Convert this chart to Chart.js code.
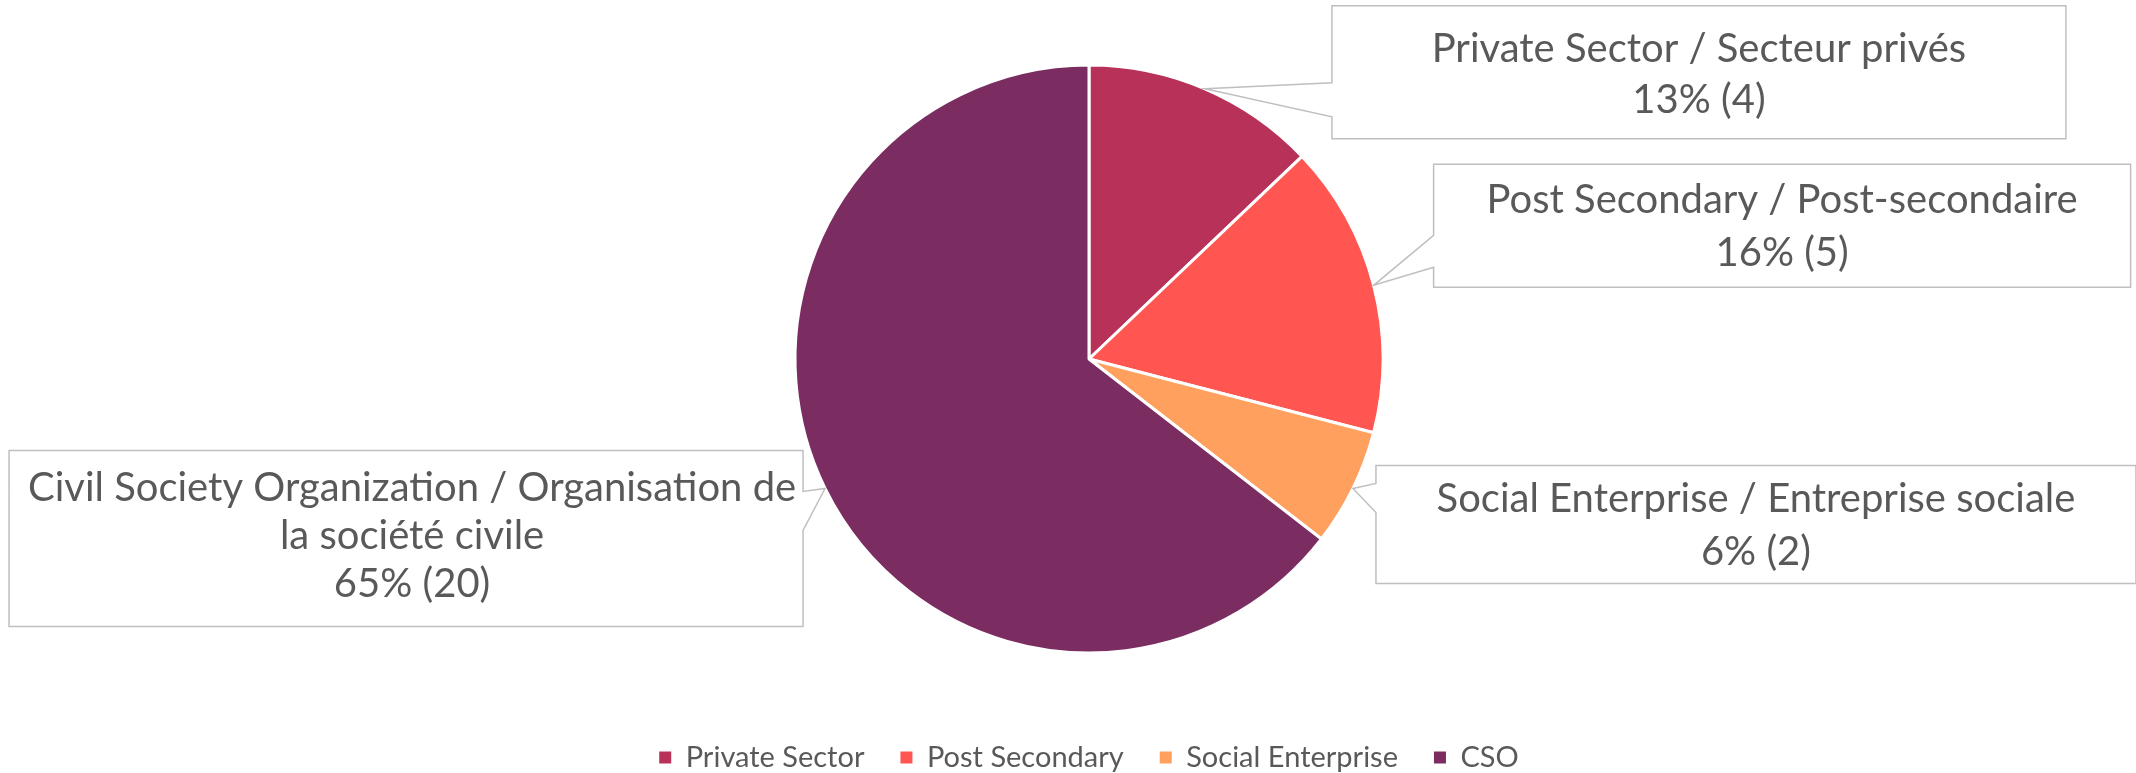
<!DOCTYPE html>
<html>
<head>
<meta charset="utf-8">
<script src="https://cdn.jsdelivr.net/npm/chart.js@4.4.1/dist/chart.umd.min.js"></script>
<style>
  html, body { margin: 0; padding: 0; background: #fff; }
  #wrap { width: 2136px; height: 773px; }
</style>
</head>
<body>
<div id="wrap"><canvas id="chart" width="2136" height="773"></canvas></div>
<script>
const categories = ['Private Sector', 'Post Secondary', 'Social Enterprise', 'CSO'];
const counts = [4, 5, 2, 20];
const calloutNames = [
  ['Private Sector / Secteur privés'],
  ['Post Secondary / Post-secondaire'],
  ['Social Enterprise / Entreprise sociale'],
  ['Civil Society Organization / Organisation de', 'la société civile'],
];
const sliceColors = ['#B83158', '#FF5652', '#FFA05E', '#7B2D61'];
const textColor = '#595959';
const fontFamily = 'Lato, "Open Sans", sans-serif';

// callout boxes, placed relative to the tip on the slice edge
// p0/p1 = where the pointer leaves the box edge, base = first baseline, gap = line gap
const calloutLayout = [
  { side: 'left', dx: 127, dy: -83, w: 734, h: 133, p0: 77, p1: 111, base: 56, gap: 51, tx: 0 },
  { side: 'left', dx: 60, dy: -121, w: 697, h: 123, p0: 71, p1: 103, base: 49, gap: 53, tx: 0 },
  { side: 'left', dx: 23, dy: -23, w: 760, h: 118, p0: 18, p1: 47, base: 47, gap: 53, tx: 0 },
  { side: 'right', dx: -22, dy: -38, w: 794, h: 176, p0: 41, p1: 80, base: 51, gap: 48, tx: 6 },
];

const calloutPlugin = {
  id: 'callouts',
  afterDatasetsDraw(chart) {
    const ctx = chart.ctx;
    const meta = chart.getDatasetMeta(0);
    const total = counts.reduce((a, b) => a + b, 0);
    meta.data.forEach((arc, i) => {
      const { x, y, startAngle, endAngle, outerRadius } =
        arc.getProps(['x', 'y', 'startAngle', 'endAngle', 'outerRadius'], true);
      const mid = (startAngle + endAngle) / 2;
      const tipX = x + Math.cos(mid) * outerRadius;
      const tipY = y + Math.sin(mid) * outerRadius;
      const c = calloutLayout[i];
      const left = c.side === 'left' ? tipX + c.dx : tipX + c.dx - c.w;
      const right = left + c.w;
      const top = tipY + c.dy;

      ctx.save();
      ctx.beginPath();
      if (c.side === 'left') {
        ctx.moveTo(left, top);
        ctx.lineTo(right, top);
        ctx.lineTo(right, top + c.h);
        ctx.lineTo(left, top + c.h);
        ctx.lineTo(left, top + c.p1);
        ctx.lineTo(tipX, tipY);
        ctx.lineTo(left, top + c.p0);
      } else {
        ctx.moveTo(left, top);
        ctx.lineTo(right, top);
        ctx.lineTo(right, top + c.p0);
        ctx.lineTo(tipX, tipY);
        ctx.lineTo(right, top + c.p1);
        ctx.lineTo(right, top + c.h);
        ctx.lineTo(left, top + c.h);
      }
      ctx.closePath();
      ctx.fillStyle = '#fff';
      ctx.fill();
      ctx.strokeStyle = '#BFBFBF';
      ctx.lineWidth = 1.5;
      ctx.stroke();

      const pct = Math.round(counts[i] / total * 100);
      const lines = calloutNames[i].concat([pct + '% (' + counts[i] + ')']);
      ctx.fillStyle = textColor;
      ctx.font = '40px ' + fontFamily;
      ctx.textAlign = 'center';
      ctx.textBaseline = 'alphabetic';
      lines.forEach((t, k) => {
        ctx.fillText(t, (left + right) / 2 + c.tx, top + c.base + k * c.gap);
      });
      ctx.restore();
    });
  },
};

new Chart(document.getElementById('chart'), {
  type: 'pie',
  data: {
    labels: categories,
    datasets: [{
      data: counts,
      backgroundColor: sliceColors,
      borderColor: '#ffffff',
      borderWidth: 3,
    }],
  },
  options: {
    responsive: false,
    animation: false,
    events: [],
    radius: 294,
    layout: { padding: { left: 42, top: 11, right: 0, bottom: 0 } },
    plugins: {
      tooltip: { enabled: false },
      legend: {
        position: 'bottom',
        maxHeight: 66,
        labels: {
          boxWidth: 12,
          boxHeight: 12,
          padding: 36,
          color: textColor,
          font: { family: fontFamily, size: 29 },
          generateLabels(chart) {
            const items = Chart.overrides.pie.plugins.legend.labels.generateLabels(chart);
            items.forEach(it => { it.lineWidth = 0; it.strokeStyle = it.fillStyle; });
            return items;
          },
        },
      },
    },
  },
  plugins: [calloutPlugin],
});
</script>
</body>
</html>
